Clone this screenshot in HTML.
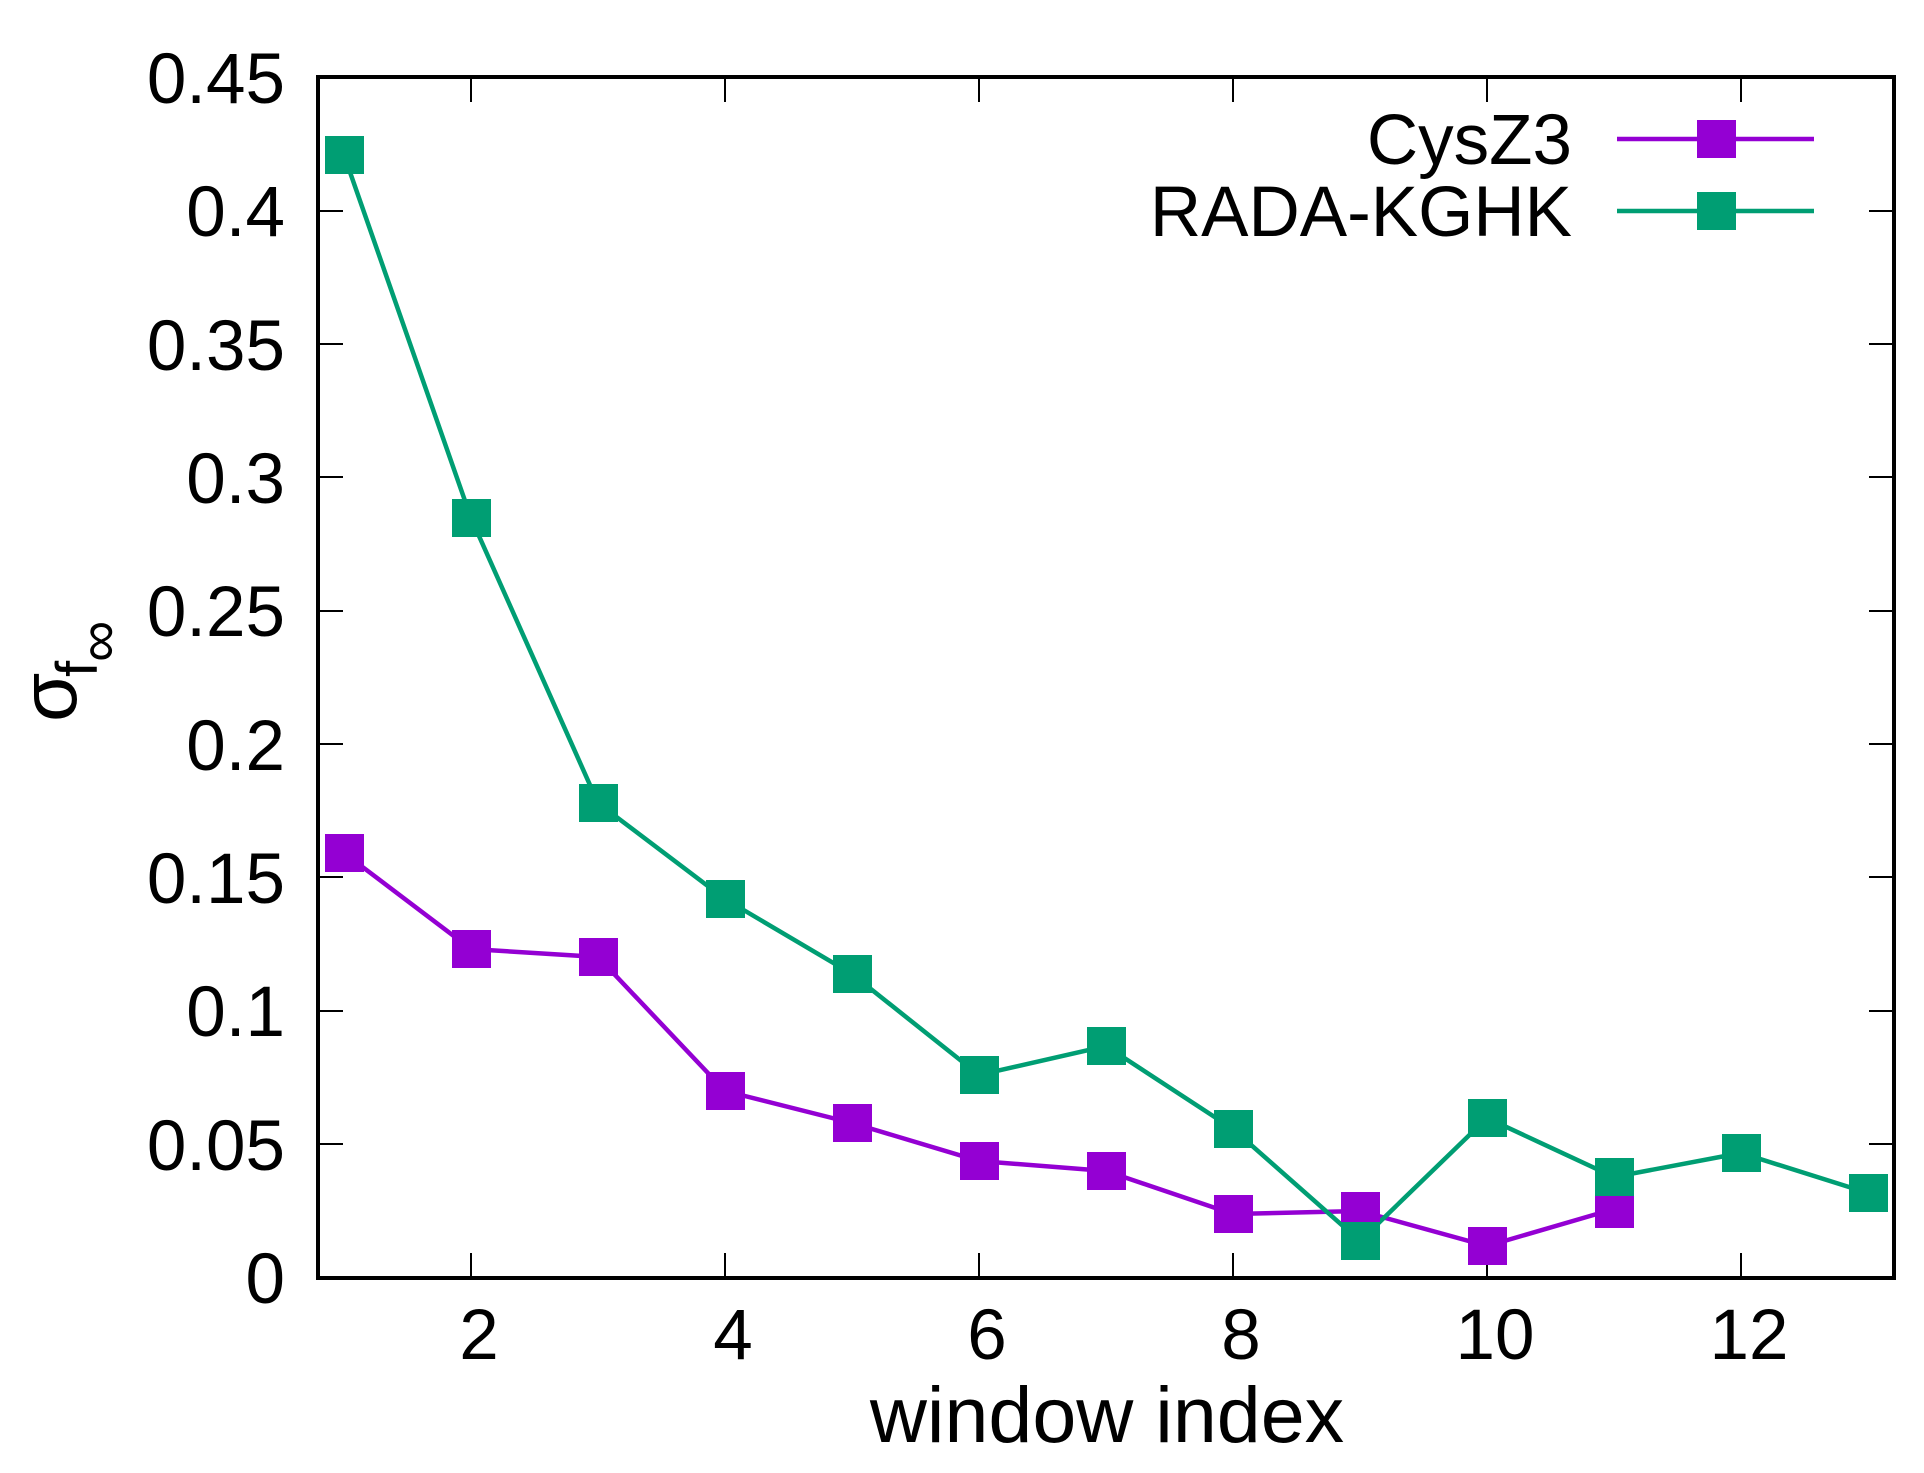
<!DOCTYPE html>
<html><head><meta charset="utf-8"><style>
html,body{margin:0;padding:0;background:#fff;}
svg{display:block;}
text{font-family:"Liberation Sans",sans-serif;fill:#000;}
</style></head><body>
<svg width="1924" height="1473" viewBox="0 0 1924 1473" xmlns="http://www.w3.org/2000/svg">
<g stroke="#000" stroke-width="2">
<line x1="318" y1="1144" x2="343" y2="1144"/><line x1="1894" y1="1144" x2="1869" y2="1144"/>
<line x1="318" y1="1011" x2="343" y2="1011"/><line x1="1894" y1="1011" x2="1869" y2="1011"/>
<line x1="318" y1="877" x2="343" y2="877"/><line x1="1894" y1="877" x2="1869" y2="877"/>
<line x1="318" y1="744" x2="343" y2="744"/><line x1="1894" y1="744" x2="1869" y2="744"/>
<line x1="318" y1="611" x2="343" y2="611"/><line x1="1894" y1="611" x2="1869" y2="611"/>
<line x1="318" y1="477" x2="343" y2="477"/><line x1="1894" y1="477" x2="1869" y2="477"/>
<line x1="318" y1="344" x2="343" y2="344"/><line x1="1894" y1="344" x2="1869" y2="344"/>
<line x1="318" y1="211" x2="343" y2="211"/><line x1="1894" y1="211" x2="1869" y2="211"/>
<line x1="471" y1="1278" x2="471" y2="1253"/><line x1="471" y1="77" x2="471" y2="102"/>
<line x1="725" y1="1278" x2="725" y2="1253"/><line x1="725" y1="77" x2="725" y2="102"/>
<line x1="979" y1="1278" x2="979" y2="1253"/><line x1="979" y1="77" x2="979" y2="102"/>
<line x1="1233" y1="1278" x2="1233" y2="1253"/><line x1="1233" y1="77" x2="1233" y2="102"/>
<line x1="1487" y1="1278" x2="1487" y2="1253"/><line x1="1487" y1="77" x2="1487" y2="102"/>
<line x1="1741" y1="1278" x2="1741" y2="1253"/><line x1="1741" y1="77" x2="1741" y2="102"/>
</g>
<g font-size="71" text-anchor="end">
<text x="285" y="1303">0</text>
<text x="285" y="1170">0.05</text>
<text x="285" y="1036">0.1</text>
<text x="285" y="903">0.15</text>
<text x="285" y="770">0.2</text>
<text x="285" y="636">0.25</text>
<text x="285" y="503">0.3</text>
<text x="285" y="370">0.35</text>
<text x="285" y="236">0.4</text>
<text x="285" y="103">0.45</text>
</g>
<g font-size="71" text-anchor="middle">
<text x="479" y="1359">2</text>
<text x="733" y="1359">4</text>
<text x="987" y="1359">6</text>
<text x="1241" y="1359">8</text>
<text x="1495" y="1359">10</text>
<text x="1749" y="1359">12</text>
<text x="1107" y="1442" font-size="79">window index</text>
</g>
<g transform="translate(76,722) rotate(-90)">
<text x="0" y="0" font-size="80">σ</text>
<text x="45" y="21" font-size="58">f</text>
<text x="60" y="42" font-size="58">∞</text>
</g>
<polyline fill="none" stroke="#9400d3" stroke-width="4.5" points="344,853 471,949 598,957 725,1091 852,1123 979,1161 1106,1171 1233,1214 1360,1211 1487,1246 1614,1209"/>
<polyline fill="none" stroke="#009e73" stroke-width="4.5" points="344,155 471,518 598,803 725,899 852,974 979,1075 1106,1046 1233,1129 1360,1241 1487,1118 1614,1177 1741,1153 1868,1193"/>
<g fill="#9400d3">
<rect x="325" y="834" width="39" height="38"/><rect x="452" y="930" width="39" height="38"/><rect x="579" y="938" width="39" height="38"/><rect x="706" y="1072" width="39" height="38"/><rect x="833" y="1104" width="39" height="38"/><rect x="960" y="1142" width="39" height="38"/><rect x="1087" y="1152" width="39" height="38"/><rect x="1214" y="1195" width="39" height="38"/><rect x="1341" y="1192" width="39" height="38"/><rect x="1468" y="1227" width="39" height="38"/><rect x="1595" y="1190" width="39" height="38"/>
</g>
<g fill="#009e73">
<rect x="325" y="136" width="39" height="38"/><rect x="452" y="499" width="39" height="38"/><rect x="579" y="784" width="39" height="38"/><rect x="706" y="880" width="39" height="38"/><rect x="833" y="955" width="39" height="38"/><rect x="960" y="1056" width="39" height="38"/><rect x="1087" y="1027" width="39" height="38"/><rect x="1214" y="1110" width="39" height="38"/><rect x="1341" y="1222" width="39" height="38"/><rect x="1468" y="1099" width="39" height="38"/><rect x="1595" y="1158" width="39" height="38"/><rect x="1722" y="1134" width="39" height="38"/><rect x="1849" y="1174" width="39" height="38"/>
</g>
<g font-size="71" text-anchor="end">
<text x="1572" y="164">CysZ3</text>
<text x="1572" y="236">RADA-KGHK</text>
</g>
<line x1="1617" y1="139" x2="1814" y2="139" stroke="#9400d3" stroke-width="4.5"/>
<rect x="1697" y="120" width="39" height="38" fill="#9400d3"/>
<line x1="1617" y1="211" x2="1814" y2="211" stroke="#009e73" stroke-width="4.5"/>
<rect x="1697" y="192" width="39" height="38" fill="#009e73"/>
<rect x="318" y="77" width="1576" height="1201" fill="none" stroke="#000" stroke-width="4"/>
</svg>
</body></html>
